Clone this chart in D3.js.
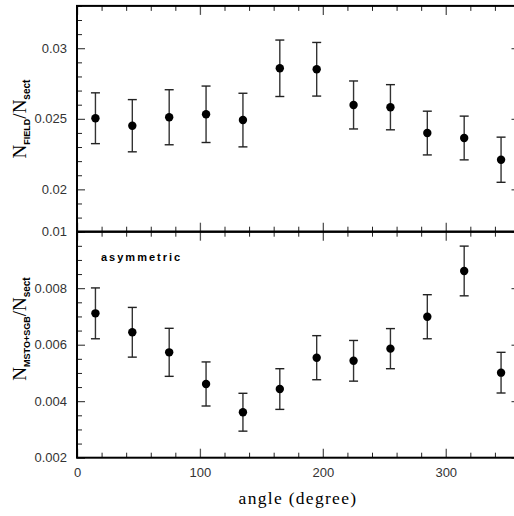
<!DOCTYPE html>
<html>
<head>
<meta charset="utf-8">
<script src="https://cdn.jsdelivr.net/npm/d3@7"></script>
<style>
  body { margin: 0; background: #fff; }
  svg { display: block; }
</style>
</head>
<body>
<div id="container"></div>
<script>
const angles = [15, 45, 75, 105, 135, 165, 195, 225, 255, 285, 315, 345];

const fieldValues = [0.02504, 0.02451, 0.02511, 0.02532, 0.02491, 0.02858, 0.02851, 0.02598, 0.02582, 0.02399, 0.02364, 0.02210];
const fieldErrors = [0.0018, 0.00185, 0.00195, 0.0020, 0.0019, 0.0020, 0.0019, 0.0017, 0.0016, 0.00155, 0.00155, 0.0016];

const mstoValues = [0.00711, 0.00644, 0.00573, 0.00461, 0.00361, 0.00443, 0.00554, 0.00543, 0.00586, 0.00699, 0.00861, 0.00501];
const mstoErrors = [0.0009, 0.00088, 0.00085, 0.00078, 0.00067, 0.00072, 0.00078, 0.00072, 0.00071, 0.00078, 0.00088, 0.00072];

const xMajorTicks = [0, 100, 200, 300];
const topMajorTicks = [0.02, 0.025, 0.03];
const bottomMajorTicks = [0.002, 0.004, 0.006, 0.008, 0.01];

const width = 514, height = 516;

const svg = d3.select('#container')
    .append('svg')
    .attr('width', width)
    .attr('height', height)
    .attr('viewBox', `0 0 ${width} ${height}`);

const x = d3.scaleLinear().domain([0, 360]).range([77, 519.5]);
const yTop = d3.scaleLinear().domain([0.017, 0.033]).range([231.7, 5.9]);
const yBot = d3.scaleLinear().domain([0.002, 0.01]).range([457.7, 231.7]);

const xMinor = d3.range(0, 361, 20);
const topMinor = d3.range(17, 34).map(d => d / 1000);
const botMinor = d3.range(4, 21).map(d => d / 2000);

const tickFont = 'Liberation Sans, Arial, sans-serif';
const titleFont = 'Liberation Serif, Times New Roman, serif';

function frame(top, bottom) {
    svg.append('rect')
        .attr('x', x(0))
        .attr('y', top)
        .attr('width', x(360) - x(0))
        .attr('height', bottom - top)
        .attr('fill', 'none')
        .attr('stroke', '#000')
        .attr('stroke-width', 2);
}

function ticks(y, minor, major, top, bottom, labels) {
    const g = svg.append('g');
    // x ticks, bottom (pointing up) and top (pointing down)
    [[bottom, -1], [top, 1]].forEach(([yy, dir]) => {
        g.append('g').attr('transform', `translate(0,${yy})`)
            .call(d3.axisBottom(x).tickValues(xMinor.filter(d => !xMajorTicks.includes(d))).tickSize(0).tickFormat(''))
            .call(a => a.select('.domain').remove())
            .call(a => a.selectAll('.tick line').attr('y2', dir * 5).attr('stroke', '#222').attr('stroke-width', 1));
        g.append('g').attr('transform', `translate(0,${yy})`)
            .call(d3.axisBottom(x).tickValues(xMajorTicks).tickSize(0).tickFormat(''))
            .call(a => a.select('.domain').remove())
            .call(a => a.selectAll('.tick line').attr('y2', dir * 9).attr('stroke', '#555').attr('stroke-width', 1.3));
    });
    // y ticks, left and right
    [[x(0), 1], [x(360), -1]].forEach(([xx, dir]) => {
        g.append('g').attr('transform', `translate(${xx},0)`)
            .call(d3.axisLeft(y).tickValues(minor.filter(m => !major.some(M => Math.abs(M - m) < 1e-9))).tickSize(0).tickFormat(''))
            .call(a => a.select('.domain').remove())
            .call(a => a.selectAll('.tick line').attr('x2', dir * 5).attr('stroke', '#222').attr('stroke-width', 1));
        g.append('g').attr('transform', `translate(${xx},0)`)
            .call(d3.axisLeft(y).tickValues(major).tickSize(0).tickFormat(''))
            .call(a => a.select('.domain').remove())
            .call(a => a.selectAll('.tick line').attr('x2', dir * 8).attr('stroke', '#222').attr('stroke-width', 1));
    });
    // labels on the left
    g.append('g').attr('transform', `translate(${x(0)},0)`)
        .call(d3.axisLeft(y).tickValues(labels).tickSize(0).tickPadding(10).tickFormat(d3.format('')))
        .call(a => a.select('.domain').remove())
        .call(a => a.selectAll('text').attr('font-family', tickFont).attr('font-size', 13).attr('fill', '#333'));
}

function points(y, values, errors) {
    const g = svg.append('g');
    const bars = g.selectAll('g.bar')
        .data(angles.map((a, i) => ({ a, v: values[i], e: errors[i] })))
        .enter()
        .append('g');
    bars.append('line')
        .attr('x1', d => x(d.a)).attr('x2', d => x(d.a))
        .attr('y1', d => y(d.v + d.e)).attr('y2', d => y(d.v - d.e))
        .attr('stroke', '#333').attr('stroke-width', 1.4);
    [1, -1].forEach(s => {
        bars.append('line')
            .attr('x1', d => x(d.a) - 4.5).attr('x2', d => x(d.a) + 4.5)
            .attr('y1', d => y(d.v + s * d.e)).attr('y2', d => y(d.v + s * d.e))
            .attr('stroke', '#222').attr('stroke-width', 1.4);
    });
    bars.append('circle')
        .attr('cx', d => x(d.a))
        .attr('cy', d => y(d.v))
        .attr('r', 4.2)
        .attr('fill', '#000');
}

// top panel
ticks(yTop, topMinor, topMajorTicks, yTop.range()[1], yTop.range()[0], topMajorTicks);
points(yTop, fieldValues, fieldErrors);

// bottom panel
ticks(yBot, botMinor, bottomMajorTicks, yBot.range()[1], yBot.range()[0], bottomMajorTicks);
points(yBot, mstoValues, mstoErrors);

frame(yTop.range()[1], yTop.range()[0]);
frame(yBot.range()[1], yBot.range()[0]);

// x tick labels
svg.append('g').attr('transform', `translate(0,${yBot.range()[0]})`)
    .call(d3.axisBottom(x).tickValues(xMajorTicks).tickSize(0).tickPadding(10).tickFormat(d3.format('d')))
    .call(a => a.select('.domain').remove())
    .call(a => a.selectAll('text').attr('font-family', tickFont).attr('font-size', 13).attr('fill', '#333'));

// x axis title
svg.append('text')
    .attr('x', 298)
    .attr('y', 504)
    .attr('text-anchor', 'middle')
    .attr('font-family', titleFont)
    .attr('font-size', 17.5)
    .attr('letter-spacing', 1.3)
    .text('angle (degree)');

// y axis titles
function yTitle(cy, sub) {
    const t = svg.append('text')
        .attr('transform', `translate(26,${cy}) rotate(-90)`)
        .attr('text-anchor', 'middle')
        .attr('font-family', titleFont)
        .attr('font-size', 19);
    t.append('tspan').text('N');
    t.append('tspan').attr('dy', 4).attr('font-family', tickFont).attr('font-weight', 'bold').attr('font-size', 9).text(sub);
    t.append('tspan').attr('dy', -4).text('/N');
    t.append('tspan').attr('dy', 4).attr('font-family', tickFont).attr('font-weight', 'bold').attr('font-size', 10).text('sect');
}
yTitle(119, 'FIELD');
yTitle(329, 'MSTO+SGB');

// panel annotation
svg.append('text')
    .attr('x', 101)
    .attr('y', 261)
    .attr('font-family', tickFont)
    .attr('font-weight', 'bold')
    .attr('font-size', 11)
    .attr('letter-spacing', 2)
    .text('asymmetric');
</script>
</body>
</html>
